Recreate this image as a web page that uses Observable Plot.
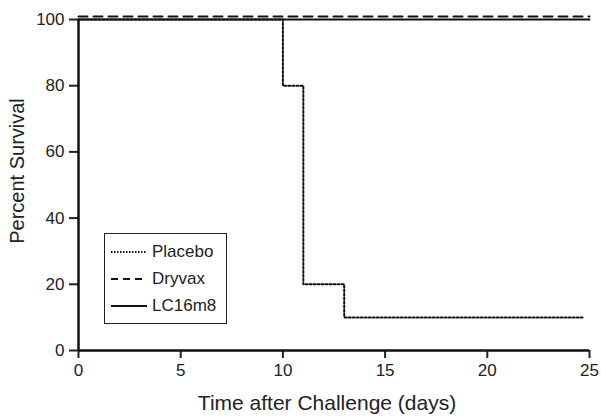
<!DOCTYPE html>
<html>
<head>
<meta charset="utf-8">
<script src="https://cdn.jsdelivr.net/npm/d3@7"></script>
<script src="https://cdn.jsdelivr.net/npm/@observablehq/plot@0.6"></script>
<style>
  html, body { margin: 0; padding: 0; background: #fff; }
  #wrap { position: relative; width: 601px; height: 419px; font-family: "Liberation Sans", Arial, sans-serif; }
  #legend { position: absolute; left: 104px; top: 233px; width: 123px; height: 91px; border: 1.5px solid #222; box-sizing: border-box; background: #fff; }
  #legend .row { position: absolute; left: 0; height: 20px; display: flex; align-items: center; font-size: 17px; color: #222; }
  #legend svg { margin-left: 6px; margin-right: 5px; }
</style>
</head>
<body>
<div id="wrap"></div>
<script>
// Data
const groups = ["Placebo", "Dryvax", "LC16m8"];
const placeboDays = [0, 10, 11, 13, 24.7];
const placeboSurvival = [100, 80, 20, 10, 10];
const dryvaxDays = [0, 25];
const dryvaxSurvival = [100, 100];
const lc16m8Days = [0, 25];
const lc16m8Survival = [100, 100];
const xTicks = [0, 5, 10, 15, 20, 25];
const yTicks = [0, 20, 40, 60, 80, 100];

const dash = {Placebo: "2,2", Dryvax: "9,6", LC16m8: null};

const toRows = (days, surv) => days.map((d, i) => ({day: d, surv: surv[i]}));
const placebo = toRows(placeboDays, placeboSurvival);
const dryvax = toRows(dryvaxDays, dryvaxSurvival);
const lc = toRows(lc16m8Days, lc16m8Survival);

const chart = Plot.plot({
  width: 601,
  height: 419,
  marginLeft: 78,
  marginRight: 12,
  marginTop: 19,
  marginBottom: 69,
  style: {fontFamily: "'Liberation Sans', Arial, sans-serif", color: "#222", background: "#fff"},
  x: {domain: [0, 25]},
  y: {domain: [0, 100]},
  marks: [
    Plot.axisX({ticks: xTicks, tickSize: 8, tickPadding: 5, fontSize: 17, strokeWidth: 2, label: null}),
    Plot.axisY({ticks: yTicks, tickSize: 9, tickPadding: 5, fontSize: 17, strokeWidth: 2, label: null}),
    Plot.text(["Time after Challenge (days)"], {frameAnchor: "bottom", dx: -7, dy: 59, fontSize: 21, fill: "#222"}),
    Plot.text(["Percent Survival"], {frameAnchor: "left", textAnchor: "middle", dx: -61, dy: -14, rotate: -90, fontSize: 20, fill: "#222"}),
    Plot.line(lc, {x: "day", y: "surv", curve: "step-after", stroke: "#111", strokeWidth: 2}),
    Plot.line(dryvax, {x: "day", y: "surv", curve: "step-after", stroke: "#111", strokeWidth: 2, strokeDasharray: dash.Dryvax, dy: -3}),
    Plot.line(placebo, {x: "day", y: "surv", curve: "step-after", stroke: "#111", strokeWidth: 2, strokeDasharray: dash.Placebo}),
    Plot.ruleX([0], {stroke: "#111", strokeWidth: 2.5}),
    Plot.ruleY([0], {stroke: "#111", strokeWidth: 2.5})
  ]
});
const wrap = document.getElementById("wrap");
wrap.appendChild(chart);

// Legend
const legend = document.createElement("div");
legend.id = "legend";
groups.forEach((g, i) => {
  const row = document.createElement("div");
  row.className = "row";
  row.style.top = (8 + i * 27) + "px";
  const d = dash[g];
  row.innerHTML = `<svg width="36" height="10"><line x1="0" x2="36" y1="5" y2="5" stroke="#111" stroke-width="2" ${d ? `stroke-dasharray="${g === "Placebo" ? "1.5,1.5" : "7,5"}"` : ""}/></svg><span>${g}</span>`;
  legend.appendChild(row);
});
wrap.appendChild(legend);
</script>
</body>
</html>
